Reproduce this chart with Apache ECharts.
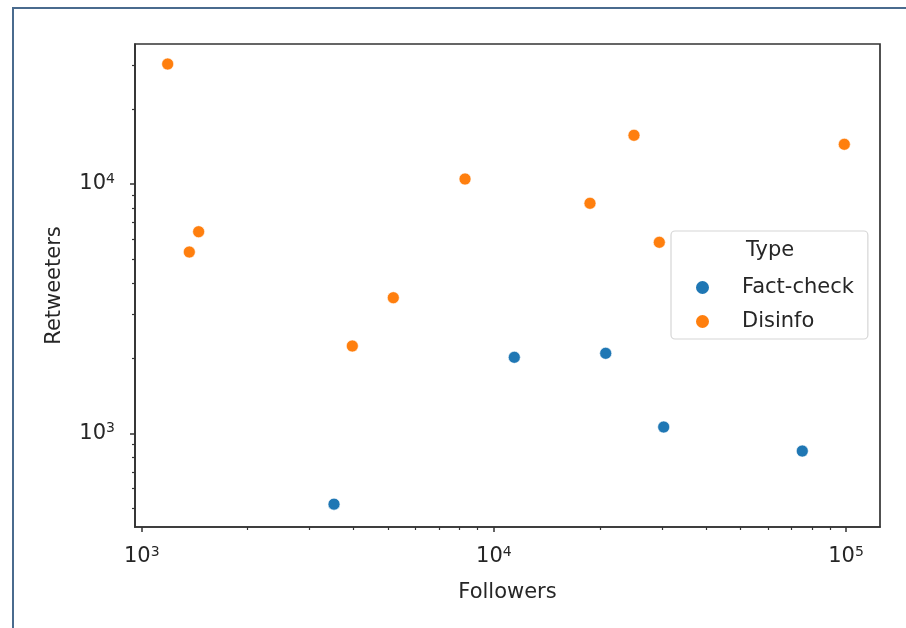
<!DOCTYPE html>
<html><head><meta charset="utf-8">
<script src="https://cdn.jsdelivr.net/npm/echarts@6/dist/echarts.min.js"></script>
<style>
html,body{margin:0;padding:0;background:#fff;overflow:hidden;}
#frame{position:absolute;left:12px;top:7px;width:1000px;height:1000px;border-left:2px solid #4a6b8e;border-top:2px solid #4a6b8e;}
#chart{position:absolute;left:0;top:0;width:906px;height:628px;}
</style></head><body><div id="frame"></div><div id="chart"></div>
<script>
const factFollowers = [3516, 11430, 20780, 30360, 75140];
const factRetweeters = [520, 2018, 2094, 1060, 849];
const disinfoFollowers = [1185, 1451, 1365, 5181, 3963, 8282, 25000, 18750, 29500, 98900];
const disinfoRetweeters = [30290, 6436, 5336, 3499, 2240, 10473, 15680, 8368, 5837, 14430];
const seriesNames = ['Fact-check', 'Disinfo'];
const legendTitle = 'Type';
const xAxisTitle = 'Followers';
const yAxisTitle = 'Retweeters';
const xMajorTicks = [1000, 10000, 100000];
const yMajorTicks = [1000, 10000];
const xMinorTicks = [2000, 3000, 4000, 5000, 6000, 7000, 8000, 9000, 20000, 30000, 40000, 50000, 60000, 70000, 80000, 90000];
const yMinorTicks = [500, 600, 700, 800, 900, 2000, 3000, 4000, 5000, 6000, 7000, 8000, 9000, 20000, 30000];
const xRange = [957, 124900];
const yRange = [421, 36440];

const colors = ['#1f77b4', '#ff7f0e'];
const FONT = 'DejaVu Sans';
const FS = 21;
const labelFmt = function (v) {
  const e = Math.round(Math.log10(v));
  return '10{sup|' + e + '}';
};
const richLabel = {
  sup: { fontSize: 14, fontFamily: FONT, color: '#262626', padding: [0, 0, 10, 0] }
};
function zip(a, b) { return a.map((v, i) => [v, b[i]]); }

const chart = echarts.init(document.getElementById('chart'), null, { renderer: 'canvas' });
const axisCommon = {
  type: 'log',
  logBase: 10,
  splitLine: { show: false },
  minorTick: { show: false },
  minorSplitLine: { show: false }
};
chart.setOption({
  animation: false,
  textStyle: { fontFamily: FONT },
  grid: { left: 135, right: 26, top: 44, bottom: 101, containLabel: false,
          show: true, borderColor: '#333', borderWidth: 1.7, backgroundColor: 'transparent' },
  xAxis: [
    Object.assign({}, axisCommon, {
      min: xRange[0], max: xRange[1],
      name: xAxisTitle, nameLocation: 'middle', nameGap: 55,
      nameTextStyle: { fontSize: FS, color: '#262626', fontFamily: FONT },
      axisLine: { show: true, onZero: false, lineStyle: { color: '#333', width: 1.7 } },
      axisTick: { show: true, length: 5, lineStyle: { color: '#333', width: 1.5 }, customValues: xMajorTicks },
      axisLabel: { show: true, margin: 18, fontSize: FS, color: '#262626', fontFamily: FONT,
                   formatter: labelFmt, rich: richLabel, customValues: xMajorTicks }
    }),
    Object.assign({}, axisCommon, {
      min: xRange[0], max: xRange[1], position: 'bottom',
      axisLine: { show: false },
      axisTick: { show: true, length: 3, lineStyle: { color: '#333', width: 1.2 }, customValues: xMinorTicks },
      axisLabel: { show: false }
    })
  ],
  yAxis: [
    Object.assign({}, axisCommon, {
      min: yRange[0], max: yRange[1],
      name: yAxisTitle, nameLocation: 'middle', nameGap: 70, nameRotate: 90,
      nameTextStyle: { fontSize: FS, color: '#262626', fontFamily: FONT },
      axisLine: { show: true, onZero: false, lineStyle: { color: '#333', width: 1.7 } },
      axisTick: { show: true, length: 5, lineStyle: { color: '#333', width: 1.5 }, customValues: yMajorTicks },
      axisLabel: { show: true, margin: 20, fontSize: FS, color: '#262626', fontFamily: FONT,
                   formatter: labelFmt, rich: richLabel, customValues: yMajorTicks }
    }),
    Object.assign({}, axisCommon, {
      min: yRange[0], max: yRange[1], position: 'left',
      axisLine: { show: false },
      axisTick: { show: true, length: 3, lineStyle: { color: '#333', width: 1.2 }, customValues: yMinorTicks },
      axisLabel: { show: false }
    })
  ],
  legend: {
    data: seriesNames,
    orient: 'vertical',
    left: 671, top: 231,
    padding: [46, 14, 7, 23],
    itemWidth: 15, itemHeight: 15,
    itemGap: 13,
    icon: 'circle',
    backgroundColor: '#fff',
    borderColor: '#d6d6d6', borderWidth: 1.2, borderRadius: 4,
    textStyle: { fontSize: FS, color: '#262626', fontFamily: FONT, lineHeight: 20, padding: [0, 0, 0, 27] }
  },
  graphic: [{
    type: 'text', left: 746, top: 240, z: 200, zlevel: 0,
    style: { text: legendTitle, fontSize: FS, fontFamily: FONT, fill: '#262626' }
  }],
  series: [
    { name: seriesNames[0], type: 'scatter', xAxisIndex: 0, yAxisIndex: 0,
      data: zip(factFollowers, factRetweeters), symbolSize: 12,
      itemStyle: { color: colors[0], borderColor: '#fff', borderWidth: 0.6, opacity: 1 } },
    { name: seriesNames[1], type: 'scatter', xAxisIndex: 0, yAxisIndex: 0,
      data: zip(disinfoFollowers, disinfoRetweeters), symbolSize: 12,
      itemStyle: { color: colors[1], borderColor: '#fff', borderWidth: 0.6, opacity: 1 } }
  ]
});
</script></body></html>
